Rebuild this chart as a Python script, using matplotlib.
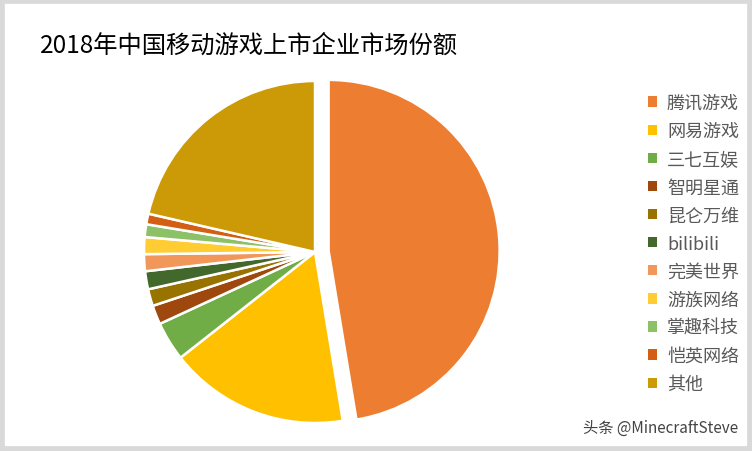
import matplotlib
matplotlib.use("Agg")
import matplotlib.pyplot as plt
from matplotlib.patches import Patch, Rectangle

plt.rcParams['font.family'] = ['Noto Sans CJK SC', 'DejaVu Sans']

title = "2018年中国移动游戏上市企业市场份额"
companies = ["腾讯游戏", "网易游戏", "三七互娱", "智明星通", "昆仑万维", "bilibili",
             "完美世界", "游族网络", "掌趣科技", "恺英网络", "其他"]
shares = [47.4, 17.0, 3.7, 1.8, 1.6, 1.7, 1.6, 1.6, 1.2, 1.0, 21.4]
colors = ["#ED7D31", "#FFC000", "#70AD47", "#9E480E", "#997300", "#43682B",
          "#F1975A", "#FFCD33", "#8CC168", "#D35F14", "#CC9A06"]
explode = [0.08] + [0.0] * (len(shares) - 1)

W, H = 752, 452
fig = plt.figure(figsize=(W / 100, H / 100), dpi=100)
fig.patch.set_facecolor("white")

# outer light-gray frame
fig.add_artist(Rectangle((0, 0), 1, 1, transform=fig.transFigure, fill=False,
                         edgecolor="#D9D9D9", linewidth=7))

cx, cy, r = 315, 253, 171
ax = fig.add_axes([(cx - r) / W, (H - cy - r) / H, 2 * r / W, 2 * r / H])
wedges, _ = ax.pie(shares, colors=colors, startangle=90, counterclock=False,
                   explode=explode, radius=1.0,
                   wedgeprops=dict(edgecolor="white", linewidth=1.8))
ax.set_xlim(-1, 1)
ax.set_ylim(-1, 1)
ax.set_aspect("auto")
ax.axis("off")

fig.text(40 / W, 1 - 46 / H, title, fontsize=17.5, color="black",
         fontweight="medium", ha="left", va="center")

handles = [Patch(facecolor=c, edgecolor="none") for c in colors]
leg = fig.legend(handles, companies, loc="upper left",
                 bbox_to_anchor=(639 / W, 1 - 86 / H), frameon=False,
                 fontsize=13, handlelength=0.5, handleheight=0.5,
                 handletextpad=0.55, labelspacing=0.56, borderpad=0)
for t in leg.get_texts():
    t.set_color("#595959")

fig.text(738 / W, 1 - 428 / H, "头条 @MinecraftSteve", fontsize=11,
         color="#444444", ha="right", va="center")

fig.savefig("out.png", dpi=100, facecolor="white")
